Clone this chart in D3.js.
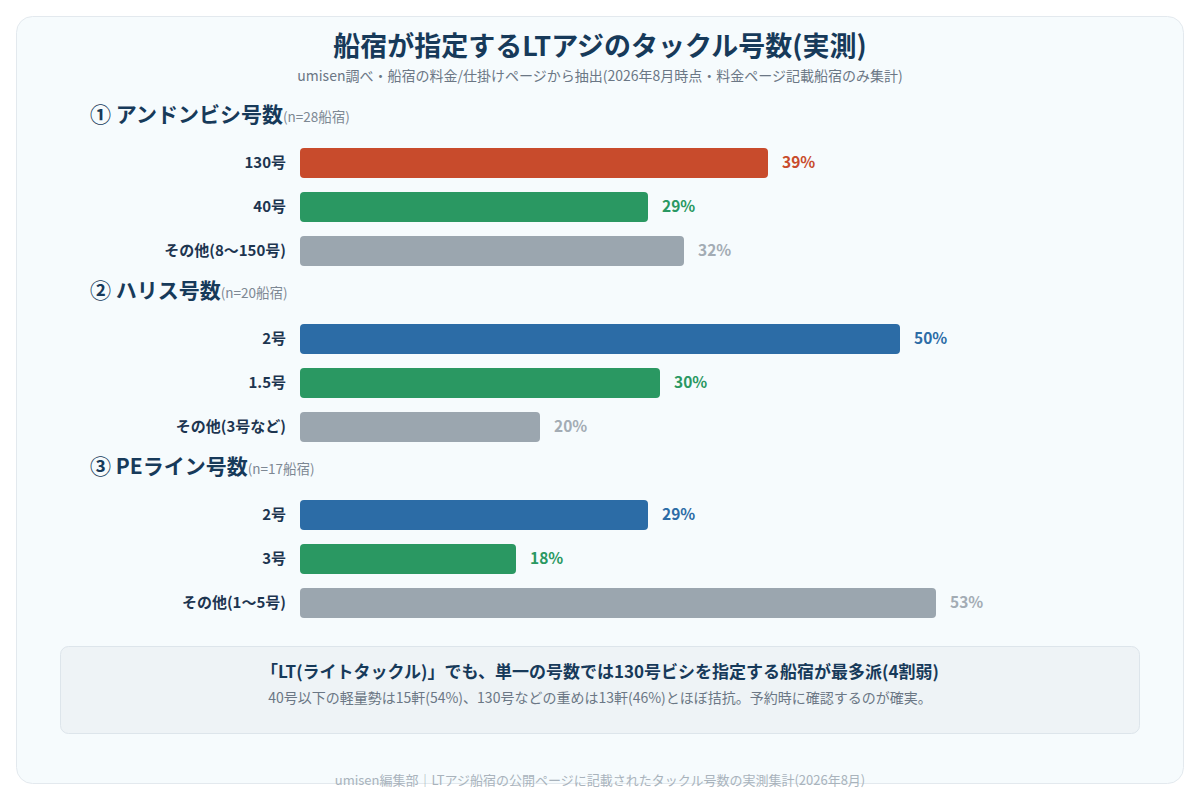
<!DOCTYPE html>
<html><head><meta charset="utf-8">
<script src="https://cdn.jsdelivr.net/npm/d3@7"></script>
<style>
html,body{margin:0;padding:0;background:#ffffff;}
text{font-family:"Noto Sans CJK JP","Noto Sans",sans-serif;}
</style></head>
<body><svg id="c" width="1200" height="800"></svg>
<script>
const sectionTitles = ["① アンドンビシ号数", "② ハリス号数", "③ PEライン号数"];
const sectionNotes = ["(n=28船宿)", "(n=20船宿)", "(n=17船宿)"];
const cats1 = ["130号", "40号", "その他(8〜150号)"];
const vals1 = [39, 29, 32];
const cols1 = ["#c84b2c", "#2a9862", "#9ba6af"];
const cats2 = ["2号", "1.5号", "その他(3号など)"];
const vals2 = [50, 30, 20];
const cols2 = ["#2c6ca6", "#2a9862", "#9ba6af"];
const cats3 = ["2号", "3号", "その他(1〜5号)"];
const vals3 = [29, 18, 53];
const cols3 = ["#2c6ca6", "#2a9862", "#9ba6af"];
const labelCols = {"#c84b2c":"#c84b2c","#2a9862":"#2a9862","#2c6ca6":"#2c6ca6","#9ba6af":"#a3acb4"};

const sections = [
  {cats: cats1, vals: vals1, cols: cols1},
  {cats: cats2, vals: vals2, cols: cols2},
  {cats: cats3, vals: vals3, cols: cols3}
];

const svg = d3.select("#c");
svg.append("rect").attr("x",16.5).attr("y",16.5).attr("width",1167).attr("height",767)
  .attr("rx",16).attr("fill","#f6fbfd").attr("stroke","#e3e9ee");

svg.append("text").attr("x",600).attr("y",56).attr("text-anchor","middle")
  .attr("font-size",27).attr("font-weight",700).attr("fill","#173a5a")
  .text("船宿が指定するLTアジのタックル号数(実測)");
svg.append("text").attr("x",600).attr("y",81).attr("text-anchor","middle")
  .attr("font-size",14).attr("fill","#6b7785")
  .text("umisen調べ・船宿の料金/仕掛けページから抽出(2026年8月時点・料金ページ記載船宿のみ集計)");

const x = d3.scaleLinear().domain([0,50]).range([300,900]);
const sectionTop = d3.scaleLinear().domain([0,1]).range([122,298]);

sections.forEach((s,i)=>{
  const g = svg.append("g");
  const hy = sectionTop(i);
  const ht = g.append("text").attr("x",90).attr("y",hy).attr("font-size",21).attr("font-weight",700).attr("fill","#173a5a");
  ht.append("tspan").text(sectionTitles[i]);
  ht.append("tspan").attr("font-size",13.5).attr("font-weight",400).attr("fill","#7d8893").text(sectionNotes[i]);
  const y = d3.scaleBand().domain(s.cats).range([hy+19, hy+151]).paddingInner(0.3167).paddingOuter(0.1583);
  s.cats.forEach((c,j)=>{
    const yy = y(c);
    g.append("rect").attr("x",x(0)).attr("y",yy).attr("width",x(s.vals[j])-x(0)).attr("height",y.bandwidth())
      .attr("rx",4).attr("fill",s.cols[j]);
    g.append("text").attr("x",286).attr("y",yy+y.bandwidth()/2).attr("dy","0.35em").attr("text-anchor","end")
      .attr("font-size",15).attr("font-weight",700).attr("fill","#1d3550").text(c);
    g.append("text").attr("x",x(s.vals[j])+14).attr("y",yy+y.bandwidth()/2).attr("dy","0.35em")
      .attr("font-size",15.5).attr("font-weight",700).attr("fill",labelCols[s.cols[j]]).text(s.vals[j]+"%");
  });
});

svg.append("rect").attr("x",60.5).attr("y",646.5).attr("width",1079).attr("height",87)
  .attr("rx",8).attr("fill","#eef3f6").attr("stroke","#dde5eb");
svg.append("text").attr("x",600).attr("y",678).attr("text-anchor","middle")
  .attr("font-size",17).attr("font-weight",700).attr("fill","#173a5a")
  .text("「LT(ライトタックル)」でも、単一の号数では130号ビシを指定する船宿が最多派(4割弱)");
svg.append("text").attr("x",600).attr("y",703).attr("text-anchor","middle")
  .attr("font-size",14).attr("fill","#6b7785")
  .text("40号以下の軽量勢は15軒(54%)、130号などの重めは13軒(46%)とほぼ拮抗。予約時に確認するのが確実。");
svg.append("text").attr("x",600).attr("y",785).attr("text-anchor","middle")
  .attr("font-size",13).attr("fill","#a9b3bc")
  .text("umisen編集部｜LTアジ船宿の公開ページに記載されたタックル号数の実測集計(2026年8月)");
</script></body></html>
